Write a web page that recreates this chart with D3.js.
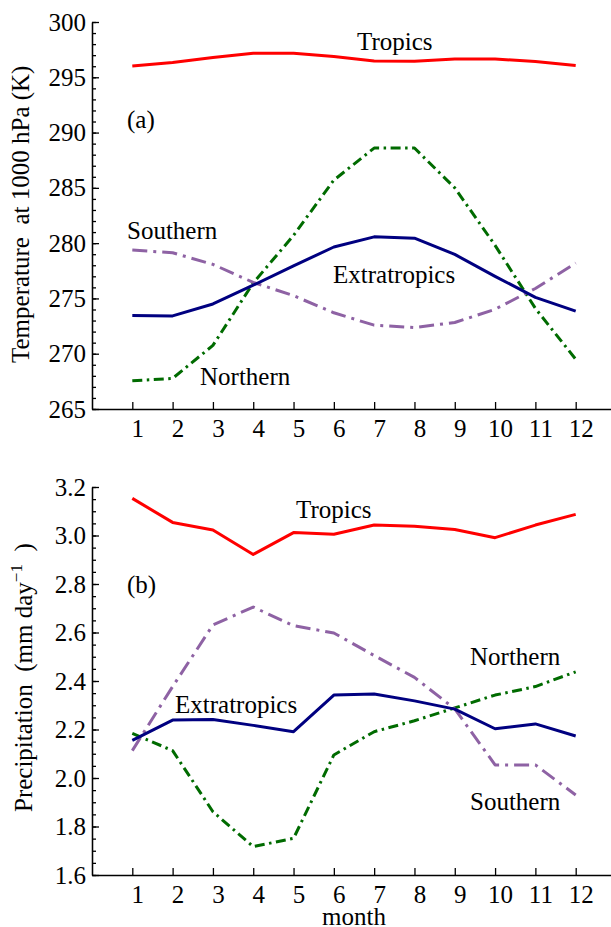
<!DOCTYPE html>
<html><head><meta charset="utf-8">
<script src="https://cdn.jsdelivr.net/npm/d3@7"></script>
<style>
body{margin:0;background:#fff;}
text{font-family:"Liberation Serif","Times New Roman",serif;fill:#000;}
</style>
</head><body>
<svg id="chart" width="611" height="927"></svg>
<script>
const months=[1,2,3,4,5,6,7,8,9,10,11,12];
const tempTropics=[296.03,296.33,296.78,297.17,297.17,296.87,296.48,296.45,296.66,296.66,296.42,296.06];
const tempExtratropics=[273.45,273.42,274.5,276.2,277.95,279.65,280.57,280.45,278.98,277.0,275.1,273.85];
const tempNorthern=[267.55,267.77,270.75,276.4,280.7,285.7,288.6,288.6,285.0,279.8,274.1,269.5];
const tempSouthern=[279.37,279.13,278.08,276.45,275.25,273.7,272.58,272.37,272.82,274.02,275.9,278.2];
const precipTropics=[3.153,3.054,3.023,2.922,3.012,3.005,3.043,3.038,3.025,2.991,3.043,3.087];
const precipExtratropics=[2.155,2.239,2.241,2.217,2.191,2.342,2.346,2.318,2.284,2.203,2.223,2.173];
const precipNorthern=[2.184,2.113,1.861,1.717,1.751,2.095,2.191,2.236,2.289,2.342,2.377,2.438];
const precipSouthern=[2.113,2.377,2.631,2.705,2.628,2.598,2.505,2.415,2.285,2.054,2.054,1.930];
const tempTicks=[265,270,275,280,285,290,295,300];
const precipTicks=[1.6,1.8,2.0,2.2,2.4,2.6,2.8,3.0,3.2];
const monthTicks=[1,2,3,4,5,6,7,8,9,10,11,12];

const colors={tropics:"#ff0000",extra:"#000080",north:"#006b00",south:"#8e62a4"};
const dashes={tropics:null,extra:null,north:"10,4.5,2.5,4.5",south:"15,6,3,6"};

const svg=d3.select("#chart");
const x=d3.scaleLinear().domain([0,13]).range([92,616]);

const panels=[
 {domain:[265,300],range:[409,22],ticks:tempTicks,minorStep:1,fmt:d3.format("d"),
  series:{north:tempNorthern,south:tempSouthern,extra:tempExtratropics,tropics:tempTropics},
  labels:[["Tropics",357,50],["(a)",127,128],["Southern",127,239],["Extratropics",333,283],["Northern",200,385]],
  ylabel:{y:363,x:29}},
 {domain:[1.6,3.2],range:[875,487],ticks:precipTicks,minorStep:0.05,fmt:d3.format(".1f"),
  series:{north:precipNorthern,south:precipSouthern,extra:precipExtratropics,tropics:precipTropics},
  labels:[["Tropics",296,518],["(b)",127,593],["Northern",470,665],["Extratropics",175,713],["Southern",470,810]],
  ylabel:{y:812,x:32}}
];

panels.forEach((p,pi)=>{
  const y=d3.scaleLinear().domain(p.domain).range(p.range);
  const g=svg.append("g");
  const minors=d3.range(p.domain[0],p.domain[1]+p.minorStep/2,p.minorStep).map(v=>+v.toFixed(3));
  g.append("g").attr("transform","translate(92,0)")
    .call(d3.axisLeft(y).tickValues(minors).tickSizeInner(-4).tickSizeOuter(0).tickFormat(""))
    .call(a=>a.selectAll("path,line").attr("stroke","#000").attr("stroke-width",1.3));
  g.append("g").attr("transform","translate(92,0)")
    .call(d3.axisLeft(y).tickValues(p.ticks).tickSizeInner(-7).tickSizeOuter(0).tickPadding(6).tickFormat(p.fmt))
    .call(a=>{a.selectAll("path,line").attr("stroke","#000").attr("stroke-width",1.3);
      a.selectAll("text").attr("font-size",25).attr("font-family","Liberation Serif").attr("fill","#000");});
  g.append("g").attr("transform",`translate(0,${p.range[0]})`)
    .call(d3.axisBottom(x).tickValues(monthTicks).tickSizeInner(-7).tickSizeOuter(0).tickPadding(10).tickFormat(d3.format("d")))
    .call(a=>{a.selectAll("path,line").attr("stroke","#000").attr("stroke-width",1.3);
      a.selectAll("text").attr("font-size",25).attr("font-family","Liberation Serif").attr("fill","#000").attr("dx",5);});
  const line=d3.line().x((d,i)=>x(months[i])).y(d=>y(d));
  ["north","south","extra","tropics"].forEach(k=>{
    g.append("path").datum(p.series[k]).attr("d",line)
      .attr("fill","none").attr("stroke",colors[k]).attr("stroke-width",3)
      .attr("stroke-linejoin","round")
      .attr("stroke-dasharray",dashes[k]);
  });
  p.labels.forEach(([t,lx,ly])=>{
    g.append("text").attr("x",lx).attr("y",ly).attr("font-size",25).text(t);
  });
  const yl=g.append("text").attr("transform",`translate(${p.ylabel.x},${p.ylabel.y}) rotate(-90)`)
    .attr("font-size",25).attr("xml:space","preserve");
  if(pi===0){
    yl.text("Temperature  at 1000 hPa (K)");
  } else {
    yl.append("tspan").text("Precipitation  (mm day");
    yl.append("tspan").attr("font-size",17).attr("dy",-10).text("\u22121");
    yl.append("tspan").attr("dy",10).text("  )");
  }
});
svg.append("text").attr("x",x(6.5)).attr("y",925).attr("text-anchor","middle").attr("font-size",25).text("month");
</script>
</body></html>
